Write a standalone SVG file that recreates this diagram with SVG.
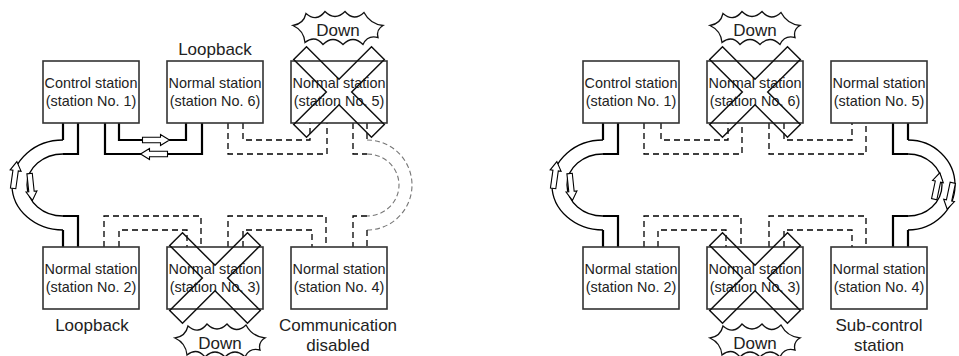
<svg xmlns="http://www.w3.org/2000/svg" xmlns:xlink="http://www.w3.org/1999/xlink" width="959" height="356" viewBox="0 0 959 356">
<style>
.box{fill:#fff;stroke:#333;stroke-width:1.6}
.t{font-family:"Liberation Sans",Arial,sans-serif;font-size:14.4px;fill:#222;text-anchor:middle}
.lbl{font-family:"Liberation Sans",Arial,sans-serif;font-size:17px;fill:#222;text-anchor:middle}
.x{fill:none;stroke:#111;stroke-width:1.5;stroke-linejoin:miter}
.burst{fill:#fff;stroke:#111;stroke-width:1.3}
.solid{fill:none;stroke:#000;stroke-width:2.2}
.curve{fill:none;stroke:#000;stroke-width:1.3}
.dash{fill:none;stroke:#000;stroke-width:1.3;stroke-dasharray:6 4}
.gdash{fill:none;stroke:#777;stroke-width:1.1;stroke-dasharray:5 3}
.harrow{fill:#fff;stroke:#000;stroke-width:1.1}
</style>
<defs>
<path id="xmark" class="x" d="M0,-12.7 L32.5,-45.3 L45.3,-32.5 L12.7,0 L45.3,32.5 L32.5,45.3 L0,12.7 L-32.5,45.3 L-45.3,32.5 L-12.7,0 L-45.3,-32.5 L-32.5,-45.3 Z"/>
<path id="burstshape" class="burst" d="M-45,-3 Q-34.4,-4.6 -32,-15 Q-21.5,-6 -13,-17 Q-3,-7 7,-17 Q16,-6.5 26,-16 Q32.1,-4.5 45,-3 Q37.9,1.1 40,9 Q29.5,6.2 25,16 Q15,6 5,16 Q-5,6 -15,16 Q-23,6.1 -33,14 Q-34.1,2 -45,-3 Z"/>
<path id="harrow" class="harrow" d="M0,-13.5 L5.5,-4.5 L2.7,-4.5 L2.7,13.5 L-2.7,13.5 L-2.7,-4.5 L-5.5,-4.5 Z"/>
</defs>

<g id="connectors">
  <!-- left diagram: solid -->
  <path class="solid" d="M119,123 V140 H186 V123"/>
  <path class="solid" d="M105,123 V154 H202 V123"/>
  <path class="solid" d="M63,123 V140"/>
  <path class="curve" d="M63,140 A51,45 0 0 0 63,230"/>
  <path class="solid" d="M63,230 V247"/>
  <path class="solid" d="M78,123 V154 H63"/>
  <path class="curve" d="M63,154 A36,31 0 0 0 63,216"/>
  <path class="solid" d="M63,216 H78 V247"/>
  <!-- left diagram: dashed -->
  <path class="dash" d="M243,123 V140 H310 V123"/>
  <path class="dash" d="M228,123 V154 H327 V123"/>
  <path class="dash" d="M367,123 V140"/>
  <path class="gdash" d="M367,140 A45,45 0 0 1 367,230"/>
  <path class="dash" d="M367,230 V247"/>
  <path class="dash" d="M353,123 V154 H367"/>
  <path class="gdash" d="M367,154 A32,31 0 0 1 367,216"/>
  <path class="dash" d="M367,216 H353 V247"/>
  <path class="dash" d="M119,247 V230 H187 V247"/>
  <path class="dash" d="M104,247 V216 H201 V247"/>
  <path class="dash" d="M228,247 V216 H326 V247"/>
  <path class="dash" d="M243,247 V230 H312 V247"/>
  <!-- right diagram: solid -->
  <path class="solid" d="M603,123 V140"/>
  <path class="curve" d="M603,140 A51,45 0 0 0 603,230"/>
  <path class="solid" d="M603,230 V247"/>
  <path class="solid" d="M618,123 V154 H603"/>
  <path class="curve" d="M603,154 A36,31 0 0 0 603,216"/>
  <path class="solid" d="M603,216 H618 V247"/>
  <path class="solid" d="M908,123 V140"/>
  <path class="curve" d="M908,140 A47,45 0 0 1 908,230"/>
  <path class="solid" d="M908,230 V247"/>
  <path class="solid" d="M893,123 V154 H908"/>
  <path class="curve" d="M908,154 A34,31 0 0 1 908,216"/>
  <path class="solid" d="M908,216 H893 V247"/>
  <!-- right diagram: dashed -->
  <path class="dash" d="M661,123 V140 H728 V123"/>
  <path class="dash" d="M644,123 V154 H742 V123"/>
  <path class="dash" d="M784,123 V140 H852 V123"/>
  <path class="dash" d="M769,123 V154 H866 V123"/>
  <path class="dash" d="M644,247 V216 H741 V247"/>
  <path class="dash" d="M658,247 V230 H726 V247"/>
  <path class="dash" d="M769,247 V216 H866 V247"/>
  <path class="dash" d="M784,247 V230 H852 V247"/>
  <!-- hollow arrows -->
  <use xlink:href="#harrow" href="#harrow" transform="translate(156,140) rotate(90)"/>
  <use xlink:href="#harrow" href="#harrow" transform="translate(154,154) rotate(-90)"/>
  <use xlink:href="#harrow" href="#harrow" transform="translate(15,175) rotate(8)"/>
  <use xlink:href="#harrow" href="#harrow" transform="translate(31,187) rotate(174)"/>
  <use xlink:href="#harrow" href="#harrow" transform="translate(555,175) rotate(8)"/>
  <use xlink:href="#harrow" href="#harrow" transform="translate(571,187) rotate(174)"/>
  <use xlink:href="#harrow" href="#harrow" transform="translate(937,186) rotate(12)"/>
  <use xlink:href="#harrow" href="#harrow" transform="translate(950,196) rotate(192)"/>
</g>

<!-- left diagram nodes -->
<g id="L-station1">
  <rect class="box" x="43" y="61" width="96" height="62"/>
  <text class="t" x="91" y="88">Control station</text>
  <text class="t" x="91" y="105.5">(station No. 1)</text>
</g>
<g id="L-station6">
  <rect class="box" x="167" y="61" width="96" height="62"/>
  <text class="t" x="215" y="88">Normal station</text>
  <text class="t" x="215" y="105.5">(station No. 6)</text>
  <text class="lbl" x="215" y="55">Loopback</text>
</g>
<g id="L-station5">
  <rect class="box" x="291" y="61" width="96" height="62"/>
  <text class="t" x="339" y="88">Normal station</text>
  <text class="t" x="339" y="105.5">(station No. 5)</text>
  <use xlink:href="#xmark" href="#xmark" transform="translate(339,92)"/>
  <use xlink:href="#burstshape" href="#burstshape" transform="translate(338,28.5)"/>
  <text class="lbl" x="338" y="36">Down</text>
</g>
<g id="L-station2">
  <rect class="box" x="43" y="247" width="96" height="62"/>
  <text class="t" x="91" y="274">Normal station</text>
  <text class="t" x="91" y="291.5">(station No. 2)</text>
  <text class="lbl" x="92" y="331">Loopback</text>
</g>
<g id="L-station3">
  <rect class="box" x="167" y="247" width="96" height="62"/>
  <text class="t" x="215" y="274">Normal station</text>
  <text class="t" x="215" y="291.5">(station No. 3)</text>
  <use xlink:href="#xmark" href="#xmark" transform="translate(215,278)"/>
  <use xlink:href="#burstshape" href="#burstshape" transform="translate(220,341)"/>
  <text class="lbl" x="220" y="349">Down</text>
</g>
<g id="L-station4">
  <rect class="box" x="291" y="247" width="96" height="62"/>
  <text class="t" x="339" y="274">Normal station</text>
  <text class="t" x="339" y="291.5">(station No. 4)</text>
  <text class="lbl" x="338" y="331">Communication</text>
  <text class="lbl" x="338" y="351">disabled</text>
</g>

<!-- right diagram nodes -->
<g id="R-station1">
  <rect class="box" x="583" y="61" width="96" height="62"/>
  <text class="t" x="631" y="88">Control station</text>
  <text class="t" x="631" y="105.5">(station No. 1)</text>
</g>
<g id="R-station6">
  <rect class="box" x="707" y="61" width="96" height="62"/>
  <text class="t" x="755" y="88">Normal station</text>
  <text class="t" x="755" y="105.5">(station No. 6)</text>
  <use xlink:href="#xmark" href="#xmark" transform="translate(755,92)"/>
  <use xlink:href="#burstshape" href="#burstshape" transform="translate(755,28.5)"/>
  <text class="lbl" x="755" y="36">Down</text>
</g>
<g id="R-station5">
  <rect class="box" x="831" y="61" width="96" height="62"/>
  <text class="t" x="879" y="88">Normal station</text>
  <text class="t" x="879" y="105.5">(station No. 5)</text>
</g>
<g id="R-station2">
  <rect class="box" x="583" y="247" width="96" height="62"/>
  <text class="t" x="631" y="274">Normal station</text>
  <text class="t" x="631" y="291.5">(station No. 2)</text>
</g>
<g id="R-station3">
  <rect class="box" x="707" y="247" width="96" height="62"/>
  <text class="t" x="755" y="274">Normal station</text>
  <text class="t" x="755" y="291.5">(station No. 3)</text>
  <use xlink:href="#xmark" href="#xmark" transform="translate(755,278)"/>
  <use xlink:href="#burstshape" href="#burstshape" transform="translate(755,341)"/>
  <text class="lbl" x="755" y="349">Down</text>
</g>
<g id="R-station4">
  <rect class="box" x="831" y="247" width="96" height="62"/>
  <text class="t" x="879" y="274">Normal station</text>
  <text class="t" x="879" y="291.5">(station No. 4)</text>
  <text class="lbl" x="879" y="331">Sub-control</text>
  <text class="lbl" x="879" y="351">station</text>
</g>
</svg>
